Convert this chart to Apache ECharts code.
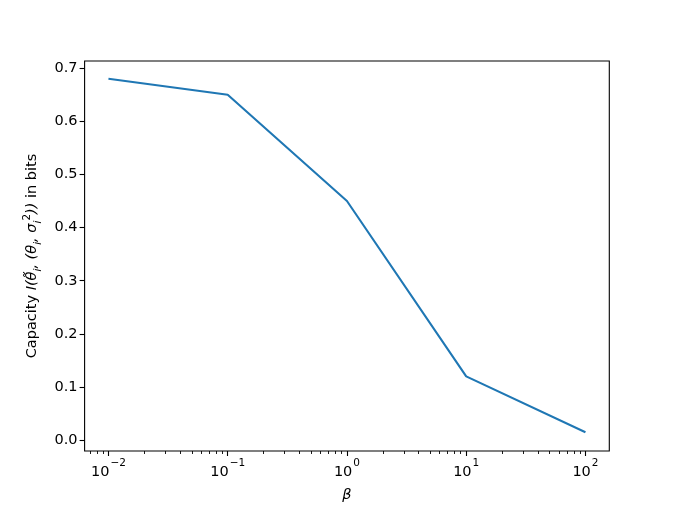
<!DOCTYPE html>
<html><head><meta charset="utf-8">
<script src="https://cdn.jsdelivr.net/npm/echarts@6/dist/echarts.min.js"></script>
<style>html,body{margin:0;padding:0;background:#fff}#c{width:677px;height:508px}</style>
</head><body><div id="c"></div>
<script>
const betas = [0.01, 0.1, 1, 10, 100];
const capacity = [0.68, 0.65, 0.45, 0.12, 0.015];
const xMajorExponents = [-2, -1, 0, 1, 2];
const xTickExponentLabels = ['\u22122', '\u22121', '0', '1', '2'];
const yTicks = [0, 0.1, 0.2, 0.3, 0.4, 0.5, 0.6, 0.7];

const xMin = -2.2, xMax = 2.2, yMin = -0.0203, yMax = 0.7134;
const minor = [];
for (let e = -3; e <= 2; e++) for (let k = 2; k <= 9; k++) {
  const v = Math.log10(k * Math.pow(10, e));
  if (v >= xMin && v <= xMax) minor.push(v);
}
const font = 'DejaVu Sans';
const chart = echarts.init(document.getElementById('c'));
chart.setOption({
  animation: false,
  grid: {left: 84.6, right: 67.7, top: 61, bottom: 55.9, show: true, borderColor: '#000', borderWidth: 1.1, backgroundColor: 'transparent'},
  xAxis: [{
    type: 'value', min: xMin, max: xMax, position: 'bottom',
    splitLine: {show: false}, axisLine: {show: false, onZero: false},
    axisTick: {show: true, customValues: xMajorExponents, length: 5, lineStyle: {color: '#000', width: 1.1}},
    axisLabel: {customValues: xMajorExponents, margin: 7, color: '#000', fontFamily: font, fontSize: 14.5,
      formatter: v => '{b|10}{s|' + xTickExponentLabels[xMajorExponents.indexOf(Math.round(v))] + '}',
      rich: {b: {fontFamily: font, fontSize: 14.5, color: '#000', lineHeight: 22, verticalAlign: 'bottom'},
             s: {fontFamily: font, fontSize: 10.5, color: '#000', lineHeight: 22, verticalAlign: 'top', padding: [0, 0, 0, 1]}}},
    name: 'β', nameLocation: 'middle', nameGap: 37,
    nameTextStyle: {fontFamily: font, fontSize: 14.5, fontStyle: 'italic', color: '#000'}
  }, {
    type: 'value', min: xMin, max: xMax, position: 'bottom',
    splitLine: {show: false}, axisLine: {show: false, onZero: false},
    axisTick: {show: true, customValues: minor, length: 3, lineStyle: {color: '#000', width: 0.9}},
    axisLabel: {show: false}
  }],
  yAxis: {
    type: 'value', min: yMin, max: yMax, position: 'left',
    splitLine: {show: false}, axisLine: {show: false, onZero: false},
    axisTick: {show: true, customValues: yTicks, length: 5, lineStyle: {color: '#000', width: 1.1}},
    axisLabel: {customValues: yTicks, margin: 7, color: '#000', fontFamily: font, fontSize: 14.5,
      formatter: v => v.toFixed(1)},
    name: '{n|Capacity }{m|I(θ\u0303}{sub|i}{m|, (θ}{sub|i}{m|, σ}{sub|i}{sup|2}{m|))}{n| in bits}',
    nameLocation: 'middle', nameGap: 40, nameRotate: 90,
    nameTextStyle: {fontFamily: font, fontSize: 14.5, color: '#000',
      rich: {n: {fontFamily: font, fontSize: 14.5, color: '#000', lineHeight: 22, verticalAlign: 'middle'},
             m: {fontFamily: font, fontSize: 14.5, fontStyle: 'italic', color: '#000', lineHeight: 22, verticalAlign: 'middle'},
             sub: {fontFamily: font, fontSize: 10.5, fontStyle: 'italic', color: '#000', lineHeight: 22, verticalAlign: 'bottom'},
             sup: {fontFamily: font, fontSize: 10.5, color: '#000', lineHeight: 22, verticalAlign: 'top'}}}
  },
  series: [{
    type: 'line', xAxisIndex: 0, showSymbol: false, symbol: 'none',
    data: betas.map((b, i) => [Math.log10(b), capacity[i]]),
    lineStyle: {color: '#1f77b4', width: 2.1}
  }]
});
</script></body></html>
